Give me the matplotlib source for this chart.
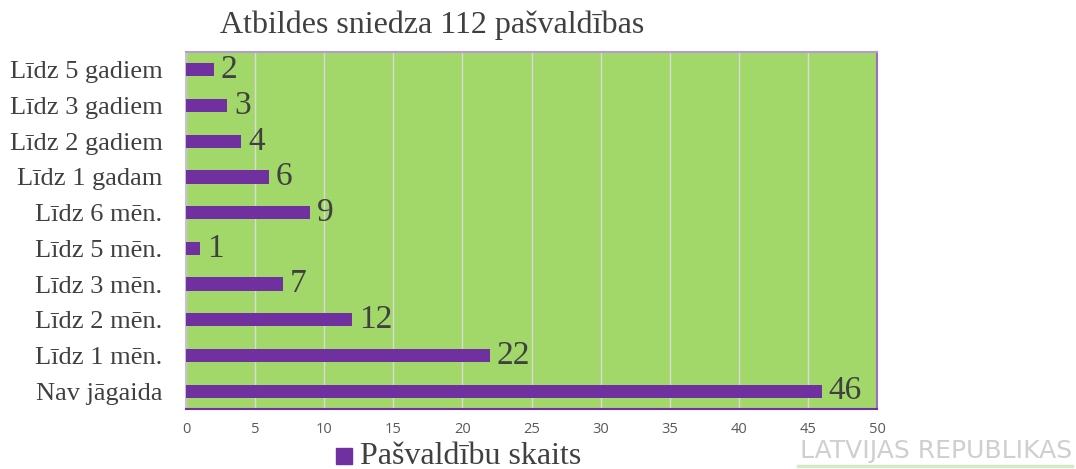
"""
Pašvaldību atbilžu diagramma (horizontālie stabiņi)
"""
import matplotlib
matplotlib.use("Agg")
import matplotlib.pyplot as plt
from matplotlib.patches import Rectangle
from matplotlib.lines import Line2D

# Dati
kategorijas = ['Nav jāgaida', 'Līdz 1 mēn.', 'Līdz 2 mēn.', 'Līdz 3 mēn.', 'Līdz 5 mēn.',
               'Līdz 6 mēn.', 'Līdz 1 gadam', 'Līdz 2 gadiem', 'Līdz 3 gadiem', 'Līdz 5 gadiem']
vertibas = [46, 22, 12, 7, 1, 9, 6, 4, 3, 2]
x_ticks = [0, 5, 10, 15, 20, 25, 30, 35, 40, 45, 50]

virsraksts = 'Atbildes sniedza 112 pašvaldības'
serijas_nosaukums = 'Pašvaldību skaits'
udenszime = 'LATVIJAS REPUBLIKAS'

SERIF = ['Liberation Serif', 'DejaVu Serif']
violets = '#7030A0'
zals = '#A2D86A'
teksts = '#404040'

fig = plt.figure(figsize=(10.76, 4.69), dpi=100)
ax = fig.add_axes([186 / 1076, 1 - 409 / 469, (877 - 186) / 1076, (409 - 52) / 469])
ax.set_facecolor(zals)

y = list(range(len(kategorijas)))
ax.barh(y, vertibas, height=0.37, color=violets, zorder=3)

# Vērtību etiķetes
for yi, v in zip(y, vertibas):
    ax.text(v + 0.5, yi, str(v), va='center', ha='left', fontsize=24,
            family=SERIF, color=teksts, zorder=4)

ax.set_xlim(0, 50)
ax.set_ylim(-0.5, len(kategorijas) - 0.5)
ax.set_xticks(x_ticks)
ax.set_xticklabels([str(t) for t in x_ticks], fontsize=10.5, color='#595959',
                   family=['Open Sans', 'DejaVu Sans'])
ax.set_yticks(y)
ax.set_yticklabels(kategorijas, fontsize=19, family=SERIF, color=teksts)
ax.tick_params(axis='both', length=0)
ax.tick_params(axis='x', pad=9)
ax.tick_params(axis='y', pad=17)
ax.grid(axis='x', color='#d9d9d9', linewidth=1, zorder=1)

# Rāmis
ax.spines['top'].set_color('#b79ad0')
ax.spines['right'].set_color('#9a6fc0')
ax.spines['bottom'].set_color(violets)
ax.spines['left'].set_color('#c8c0d0')
for s in ax.spines.values():
    s.set_linewidth(1.5)

# Virsraksts
fig.text(432 / 1076, 1 - 25 / 469, virsraksts, ha='center', va='center',
         fontsize=23, family=SERIF, color=teksts)

# Leģenda
fig.patches.append(Rectangle((336 / 1076, 1 - 464 / 469), 16 / 1076, 16 / 469,
                             transform=fig.transFigure, color=violets, figure=fig))
fig.text(360 / 1076, 1 - 456 / 469, serijas_nosaukums, ha='left', va='center',
         fontsize=23, family=SERIF, color=teksts)

# Ūdenszīme (nedaudz zemāk, lai nepārklātu ass etiķetes)
fig.text(1072 / 1076, 1 - 451 / 469, udenszime, ha='right', va='center',
         fontsize=18, color='#cfcfcf', family=['DejaVu Sans'])
fig.lines.append(Line2D([798 / 1076, 1072 / 1076], [1 - 466 / 469, 1 - 466 / 469],
                        transform=fig.transFigure, color='#d6e8c4', linewidth=2.5))

plt.savefig('out.png', dpi=100)
